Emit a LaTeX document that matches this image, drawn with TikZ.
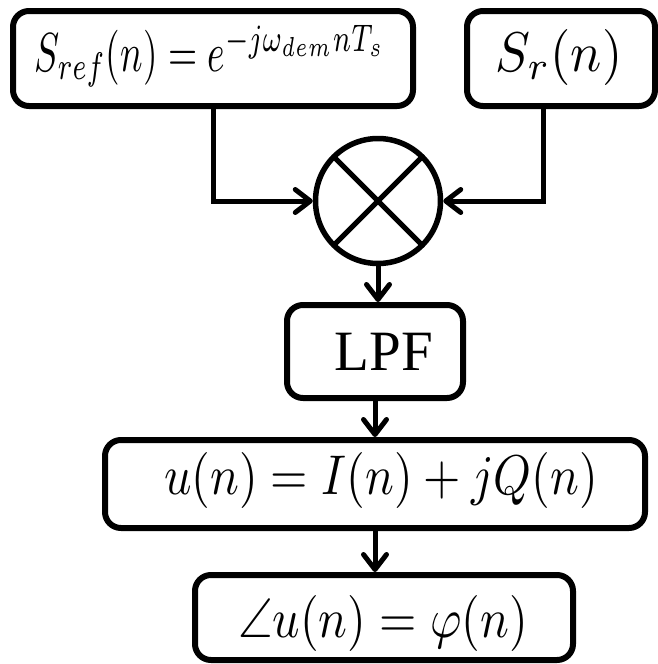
\documentclass[tikz,border=0pt]{standalone}
\usepackage{graphicx}
\usepackage{amssymb}
\usepackage{fontspec}
\newfontfamily\lpffont{Liberation Serif}
\usetikzlibrary{arrows.meta}
\begin{document}
\begin{tikzpicture}[x=1pt,y=-1pt,
  box/.style={draw, line width=6pt, rounded corners=16pt, inner sep=0pt},
  lab/.style={anchor=base, inner sep=0pt},
  arr/.style={line width=5pt, -{Straight Barb[length=15pt,width=23pt,round]}}
]
\useasboundingbox (0,0) rectangle (657,664);
% boxes
\node[box, minimum width=400pt, minimum height=95pt] (sref) at (213,58.5) {};
\node[box, minimum width=188pt, minimum height=95pt] (sr) at (561,58.5) {};
\node[draw, circle, line width=5.5pt, minimum size=125pt, inner sep=0pt] (mult) at (378,201) {};
\node[box, minimum width=176pt, minimum height=93pt] (lpf) at (375,351.5) {};
\node[box, minimum width=540pt, minimum height=88pt] (u) at (375,484) {};
\node[box, minimum width=378pt, minimum height=85pt] (phi) at (384,617.5) {};
% labels
\node[lab] (tsref) at (210,71) {\scalebox{3.75}[5.5]{$S_{ref}(n) = e^{-j\omega_{dem}nT_s}$}};
\node[lab] (tsr) at (559,71) {\scalebox{5.2}[5.6]{$S_r(n)$}};
\node[lab, font=\lpffont\fontsize{57}{60}\selectfont] (tlpf) at (384,370) {LPF};
\node[lab] (tu) at (381,494) {\scalebox{4.8}[5.6]{$u(n) = I(n) + jQ(n)$}};
\node[lab] (tphi) at (383,637) {\scalebox{4.8}[5.6]{$\angle u(n) = \varphi(n)$}};
% multiplier cross
\draw[line width=5pt, shorten <=2.8pt, shorten >=2.8pt] (mult.north west) -- (mult.south east);
\draw[line width=5pt, shorten <=2.8pt, shorten >=2.8pt] (mult.north east) -- (mult.south west);
% connectors
\draw[arr] (sref.south) |- (mult.west);
\draw[arr] ([xshift=-18pt]sr.south) |- (mult.east);
\draw[arr] (mult.south) -- (mult.south |- lpf.north);
\draw[arr] (lpf.south) -- (lpf.south |- u.north);
\draw[arr] (u.south) -- (u.south |- phi.north);
\end{tikzpicture}
\end{document}
